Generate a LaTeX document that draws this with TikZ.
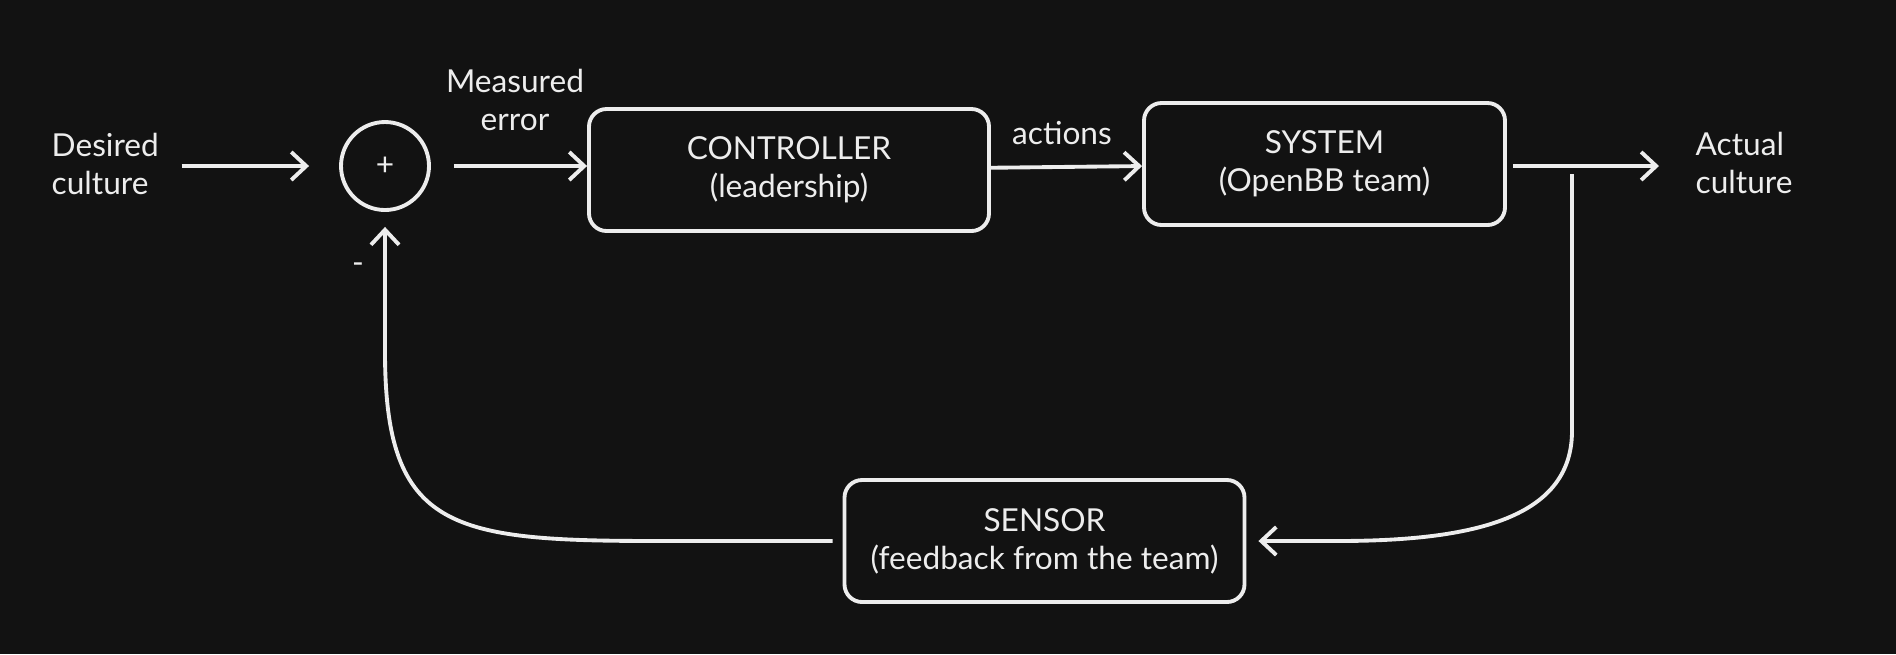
\documentclass[tikz,border=0pt]{standalone}
\usepackage{fontspec}
\setmainfont{Lato}
\usetikzlibrary{arrows.meta,positioning,calc}
\definecolor{bgdark}{HTML}{121212}
\definecolor{chalk}{HTML}{EDEDED}

\begin{document}
\begin{tikzpicture}[
    >={Straight Barb[length=1.5mm,width=2.8mm]},
    font=\fontsize{9}{10.8}\selectfont,
    line/.style={draw=chalk, line width=1.1pt},
    box/.style={
        draw=chalk,
        line width=1.1pt,
        rounded corners=5pt,
        minimum width=4cm,
        minimum height=1.22cm,
        align=center,
        text=chalk,
        fill=bgdark
    },
    lbl/.style={align=center, inner sep=0pt, text=chalk}
]
\fill[bgdark] (0,0) rectangle (18.96,-6.54);

\node[lbl, align=left, anchor=west] (des) at (0.51,-1.64) {Desired\\culture};
\node[draw=chalk, line width=1.1pt, circle, minimum size=0.88cm, inner sep=0pt, text=chalk] (sum) at (3.85,-1.66) {+};
\node[box] (ctrl) at (7.89,-1.70) {CONTROLLER\\(leadership)};
\node[box, minimum width=3.61cm] (sys) at (13.245,-1.64) {SYSTEM\\(OpenBB team)};
\node[lbl, align=left, anchor=west] (act) at (16.95,-1.63) {Actual\\culture};
\node[box] (sens) at (10.445,-5.41) {SENSOR\\(feedback from the team)};
\node[lbl] (meas) at (5.15,-1.0) {Measured\\error};
\node[lbl] (acts) at (10.62,-1.33) {actions};
\node[lbl] (minus) at (3.58,-2.68) {-};
\coordinate (tap) at (15.72,-1.74);

\draw[->, line, shorten <=0.22cm, shorten >=0.3cm] (des.east |- sum.west) -- (sum.west);
\draw[->, line, shorten <=0.23cm] (sum.east) -- (sum.east -| ctrl.west);
\draw[->, line] (ctrl) -- (sys);
\draw[->, line, shorten <=0.06cm, shorten >=0.36cm] (sys.east |- sum.east) -- (sys.east |- sum.east -| act.west);
\draw[->, line, shorten >=0.12cm] (tap) -- ($(tap |- sens.east)+(0,1.1)$) .. controls +(0,-0.9) and +(1.3,0) .. ($(sens.east)+(0.9,0)$) -- (sens.east);
\draw[->, line, shorten <=0.1cm, shorten >=0.15cm] (sens.west) -- ($(sens.west)+(-1.8,0)$) .. controls +(-2.1,0) and +(0,-1.8) .. ($(sum.south)+(0,-1.4)$) -- (sum.south);
\end{tikzpicture}
\end{document}
